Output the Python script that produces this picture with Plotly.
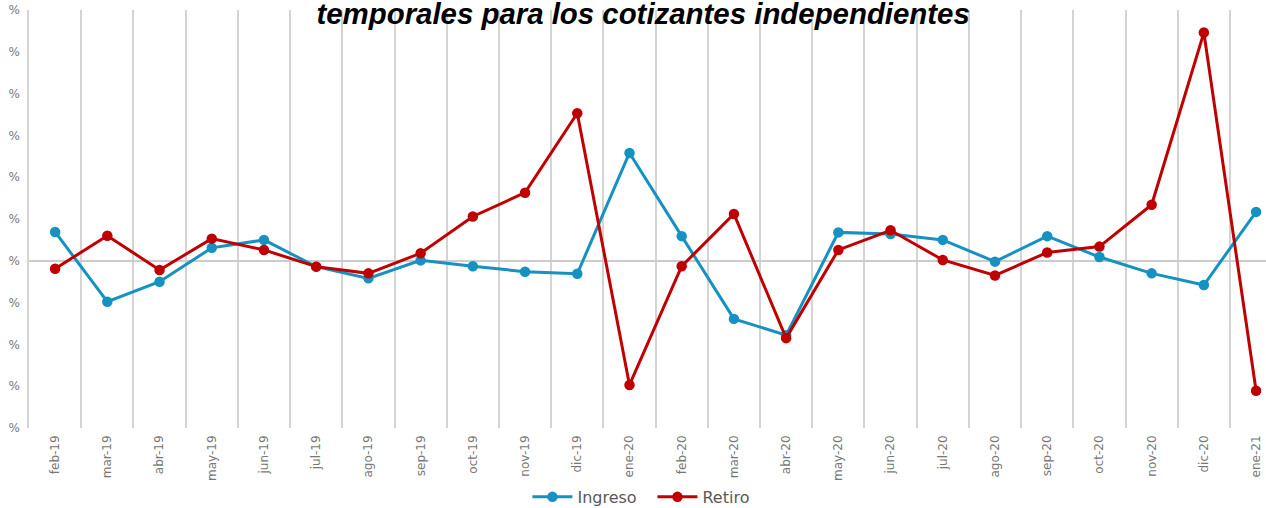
import plotly.graph_objects as go

meses = ["feb-19", "mar-19", "abr-19", "may-19", "jun-19", "jul-19", "ago-19", "sep-19",
         "oct-19", "nov-19", "dic-19", "ene-20", "feb-20", "mar-20", "abr-20", "may-20",
         "jun-20", "jul-20", "ago-20", "sep-20", "oct-20", "nov-20", "dic-20", "ene-21"]

ingreso = [6.9, -9.8, -5.0, 3.1, 5.0, -1.4, -4.2, 0.1, -1.3, -2.6, -3.1, 25.8,
           5.9, -13.9, -17.8, 6.8, 6.4, 5.0, -0.2, 5.9, 0.9, -3.0, -5.8, 11.7]

retiro = [-1.9, 6.0, -2.2, 5.3, 2.6, -1.4, -3.0, 1.8, 10.6, 16.3, 35.3, -29.7,
          -1.3, 11.2, -18.5, 2.6, 7.3, 0.2, -3.5, 2.0, 3.4, 13.4, 54.6, -31.1]

y_ticks = [-40, -30, -20, -10, 0, 10, 20, 30, 40, 50, 60]
y_ticktext = ["%"] * len(y_ticks)

titulo = "temporales para los cotizantes independientes"

fig = go.Figure()
fig.add_trace(go.Scatter(x=meses, y=ingreso, name="Ingreso", mode="lines+markers",
                         line=dict(color="#1591C2", width=3),
                         marker=dict(color="#1591C2", size=10.5)))
fig.add_trace(go.Scatter(x=meses, y=retiro, name="Retiro", mode="lines+markers",
                         line=dict(color="#C00000", width=3),
                         marker=dict(color="#C00000", size=10.5)))

fig.update_layout(
    width=1266, height=508,
    margin=dict(l=29, r=0, t=10, b=80, autoexpand=False),
    paper_bgcolor="white", plot_bgcolor="white",
    font=dict(family="DejaVu Sans", color="#666666"),
    title=dict(text="<b><i>" + titulo + "</i></b>",
               font=dict(family="Liberation Sans", size=29.4, color="black"),
               x=0.508, xref="container", xanchor="center",
               y=1.0, yref="container", yanchor="top", pad=dict(t=3)),
    legend=dict(orientation="h", x=0.504, xanchor="center", y=-0.165, yanchor="middle",
                font=dict(size=16, color="#595959"), bgcolor="rgba(0,0,0,0)",
                itemwidth=40, entrywidth=70, entrywidthmode="pixels"),
    showlegend=True,
)
fig.update_xaxes(type="category", range=[-0.5, 23.19], tickson="boundaries",
                 showgrid=True, gridcolor="#D4D4D4", gridwidth=1.5,
                 tickangle=-90, tickfont=dict(size=12, color="#777777"),
                 ticks="", ticklabelstandoff=4, showline=False, zeroline=False,
                 automargin=False)
fig.update_yaxes(range=[-40, 60], tickvals=y_ticks, ticktext=y_ticktext,
                 showgrid=False, zeroline=True, zerolinecolor="#CCCCCC", zerolinewidth=2,
                 showline=True, linecolor="#D4D4D4", linewidth=1.5,
                 tickfont=dict(size=12, color="#777777"), ticks="", ticklabelstandoff=5,
                 automargin=False)

fig.write_html("out.html", config={"displayModeBar": False},
               post_script="document.body.style.margin='0';")
